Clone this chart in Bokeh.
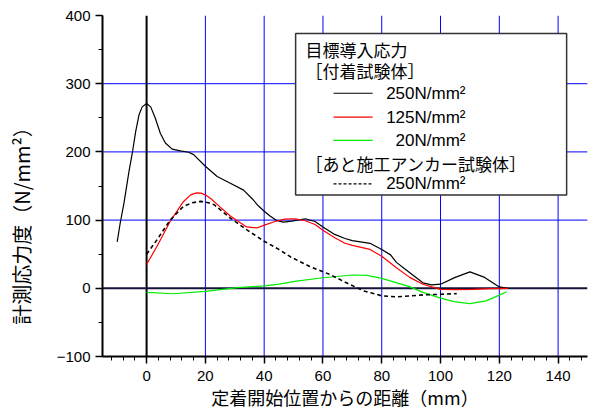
from bokeh.plotting import figure
from bokeh.models import (Range1d, SingleIntervalTicker, Span,
                          BoxAnnotation, Label, Arrow)
from bokeh.embed import file_html
from bokeh.resources import INLINE

# ---- data ----
bond250_x = [-10, -9, -7.7, -6, -4.8, -3.7, -2.6, -1.5, 0, 1.4, 3, 4.7, 6.4, 8.7, 11.5,
             14.3, 16, 20, 24, 28, 33, 36, 38, 40, 42, 44, 46.5, 49.4, 54, 57.3, 60,
             64, 67.5, 70, 76, 80, 83, 85, 88, 91, 94, 97, 100, 105, 110, 115, 120, 123]
bond250_y = [68, 95, 125, 171, 200, 230, 254, 266, 271, 266, 249, 227, 213, 204, 201.5,
             199.5, 196, 179, 164, 155, 144, 131, 121, 113, 106, 100, 97, 98.5, 102, 98,
             90, 79, 73, 70, 66, 57, 49, 38, 28, 18, 8, 5, 6, 16, 24, 16, 2, 0]

bond125_x = [0, 3.6, 8, 12.5, 15, 17, 18.5, 20, 22, 24, 28.5, 34, 37.5, 40.3, 43.7, 47,
             50.5, 54, 57.3, 60, 64, 67.5, 70, 76, 80, 85, 89.5, 94, 100, 105, 111,
             117, 123]
bond125_y = [35, 62, 98, 127, 137, 140, 139.5, 137, 131, 123, 106, 90, 88.5, 93, 98,
             101.5, 102, 99, 93.5, 85, 74, 66, 63, 57, 47, 30, 16, 6, -1.5, -2, -1.5,
             -0.5, 0]

bond20_x = [0, 9, 20, 31, 40, 45, 51, 60, 70, 75, 80, 89.5, 94, 100, 105, 110, 115.5,
            120, 122.5]
bond20_y = [-6, -8, -4.5, 1, 3.5, 6, 10.5, 15.5, 19.5, 19, 14.5, 2.5, -6, -14.5, -20,
            -22.5, -18.5, -10, -5]

post250_x = [0, 3.6, 8, 12.5, 15.5, 18.5, 21, 23, 28.5, 34, 40, 45, 49, 55.5, 62.5, 68,
             74, 80, 85, 90, 94, 100, 105.5]
post250_y = [50, 71.5, 100, 120, 125.5, 127.5, 125.5, 122.5, 103, 86, 69, 57, 46, 32,
             20, 8, -4, -11, -12.5, -11, -9.7, -8.8, -7.8]

x_grid_ticks = [20, 40, 60, 80, 100, 120, 140]
y_grid_ticks = [100, 200, 300]

x_title = "定着開始位置からの距離（mm）"
y_title = "計測応力度（N/mm²）"
legend_head = "目標導入応力"
legend_group1 = "［付着試験体］"
legend_group2 = "［あと施工アンカー試験体］"
legend_labels = ["250N/mm²", "125N/mm²", "20N/mm²", "250N/mm²"]

CJK = "Noto Sans CJK JP"
LAT = "Liberation Sans"

p = figure(width=592, height=412, output_backend="svg", toolbar_location=None,
           x_range=Range1d(-15, 150), y_range=Range1d(-100, 400),
           min_border_left=102, min_border_right=5, min_border_top=15,
           min_border_bottom=55)
p.outline_line_color = None
p.background_fill_color = "white"
p.border_fill_color = "white"
p.xgrid.visible = False
p.ygrid.visible = False

# grid lines
for gx in x_grid_ticks:
    p.add_layout(Span(location=gx, dimension="height", line_color="#0000ff",
                      line_width=1, level="underlay"))
for gy in y_grid_ticks:
    p.add_layout(Span(location=gy, dimension="width", line_color="#0000ff",
                      line_width=1, level="underlay"))
p.add_layout(Span(location=0, dimension="height", line_color="black",
                  line_width=2, level="underlay"))
p.add_layout(Span(location=0, dimension="width", line_color="#14143a",
                  line_width=2, level="underlay"))

# axes
p.xaxis.ticker = SingleIntervalTicker(interval=20, num_minor_ticks=5)
p.yaxis.ticker = SingleIntervalTicker(interval=100, num_minor_ticks=2)
for ax in (p.xaxis, p.yaxis):
    ax.axis_line_width = 2
    ax.axis_line_color = "black"
    ax.major_tick_in = 0
    ax.major_tick_out = 7
    ax.minor_tick_in = 0
    ax.minor_tick_out = 4
    ax.major_tick_line_width = 1.5
    ax.minor_tick_line_width = 1
    ax.major_tick_line_color = "black"
    ax.minor_tick_line_color = "black"
    ax.major_label_text_font = LAT
    ax.major_label_text_font_size = "15px"
    ax.major_label_text_color = "black"
    ax.axis_label_text_font = CJK
    ax.axis_label_text_font_style = "normal"
    ax.axis_label_text_color = "black"

p.xaxis.major_label_standoff = 7
p.yaxis.major_label_standoff = 5
p.xaxis.axis_label = x_title
p.xaxis.axis_label_text_font_size = "18px"
p.xaxis.axis_label_standoff = 0
# trailing ideographic spaces push the visible title lower, as in the reference
p.yaxis.axis_label = y_title + "\u3000\u3000\u3000\u3000"
p.yaxis.axis_label_text_font_size = "20px"
p.yaxis.axis_label_standoff = 18

# curves
p.line(bond250_x, bond250_y, line_color="black", line_width=1.2)
p.line(bond125_x, bond125_y, line_color="#ff0000", line_width=1.2)
p.line(bond20_x, bond20_y, line_color="#00ee00", line_width=1.2)
p.line(post250_x, post250_y, line_color="black", line_width=1.6, line_dash="4 3")

# legend box (drawn manually)
p.add_layout(BoxAnnotation(left=50.7, right=142.9, bottom=136.8, top=373.7,
                           fill_color="white", fill_alpha=1,
                           line_color="#333333", line_width=1.5, line_alpha=1))

def head(txt, y):
    p.add_layout(Label(x=54.1, y=y, text=txt, text_font=CJK, text_font_size="17px",
                       text_baseline="middle", text_align="left", text_color="black"))

def entry(txt, y, color, dash):
    p.add_layout(Arrow(end=None, x_start=63.6, y_start=y, x_end=76.9, y_end=y,
                       line_color=color, line_width=1.2 if dash == "solid" else 1.3,
                       line_dash=dash))
    p.add_layout(Label(x=108.5, y=y, text=txt, text_font=LAT, text_font_size="17px",
                       text_baseline="middle", text_align="right", text_color="black"))

head(legend_head, 350)
head(legend_group1, 319)
entry(legend_labels[0], 286, "black", "solid")
entry(legend_labels[1], 251, "#ff0000", "solid")
entry(legend_labels[2], 217, "#00ee00", "solid")
head(legend_group2, 183)
entry(legend_labels[3], 153, "black", "3 2")

open("out.html", "w").write(file_html(p, INLINE))
